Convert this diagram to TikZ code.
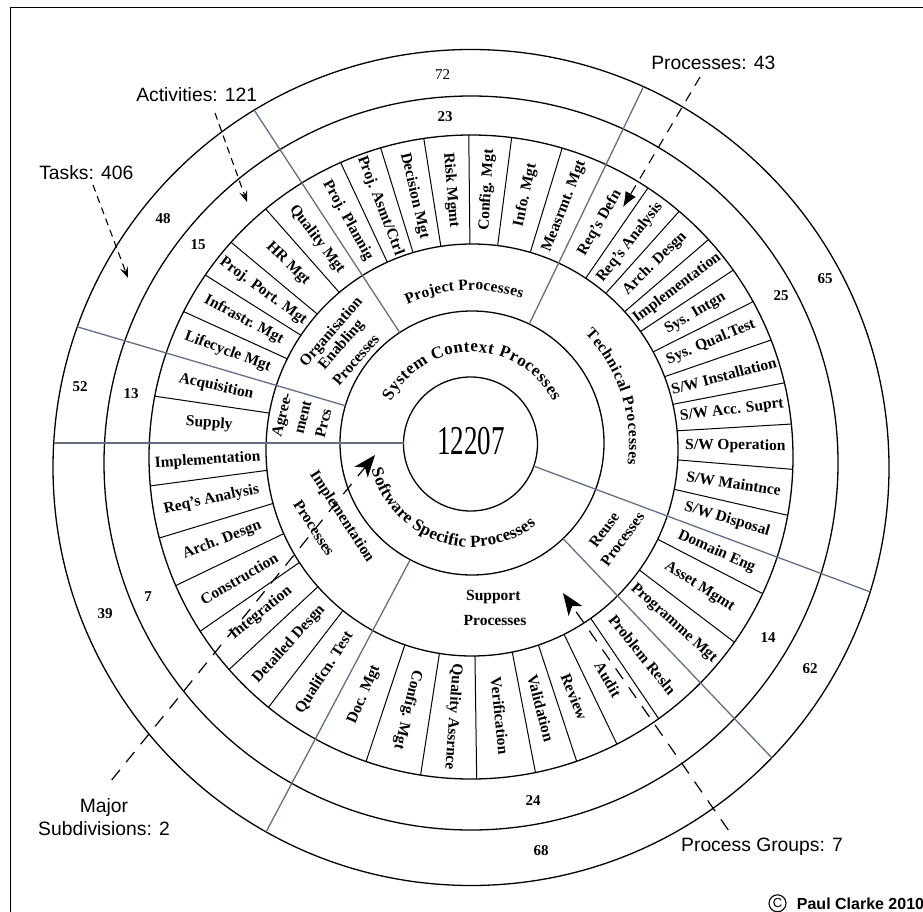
\documentclass[tikz,border=0pt]{standalone}
\usepackage{fontspec}
\usepackage{graphicx}
\setmainfont{Liberation Serif}
\newfontfamily\arialf{Liberation Sans}
\usetikzlibrary{calc,arrows.meta,decorations.text}
\definecolor{slate}{RGB}{100,110,132}

% circle data (pixel units, y negative)
\def\cxA{470.5}\def\cyA{-444}\def\crA{67}
\def\cxB{472}\def\cyB{-443}\def\crB{132}
\def\cxC{472}\def\cyC{-450}\def\crC{206}
\def\cxD{471}\def\cyD{-457}\def\crD{322}
\def\cxE{471}\def\cyE{-463}\def\crE{367}
\def\cxF{471}\def\cyF{-467.5}\def\crF{418}

\newcommand\raypt[3]{%
  \pgfmathsetmacro\RYdx{(\csname cx#3\endcsname-472)/100}%
  \pgfmathsetmacro\RYdy{(\csname cy#3\endcsname+443)/100}%
  \pgfmathsetmacro\RYr{\csname cr#3\endcsname/100}%
  \pgfmathsetmacro\RYb{cos(#2)*\RYdx+sin(#2)*\RYdy}%
  \pgfmathsetmacro\RYt{100*(\RYb+sqrt(\RYr*\RYr-\RYdx*\RYdx-\RYdy*\RYdy+\RYb*\RYb))}%
  \coordinate (#1) at ($(P)+(#2:\RYt)$)}
\newcommand\seg[4]{\raypt{sa}{#1}{#2};\raypt{sb}{#1}{#3};\draw[#4] (sa) -- (sb);}
\newcommand\actlab[3]{%
  \raypt{la}{#2}{C};\raypt{lb}{#2}{D};%
  \pgfmathsetmacro\LBrot{#2>90 ? #2-180 : #2}%
  \node[actlabel, rotate=\LBrot] (#1) at ($(la)!0.5!(lb)$) {#3};}

\tikzset{
  frameline/.style={line width=1.3pt, black},
  ringline/.style={line width=1.3pt, black},
  divline/.style={line width=1pt, black},
  grayline/.style={line width=1.3pt, slate},
  actlabel/.style={font=\fontsize{15.5}{16}\selectfont\bfseries, inner sep=0pt},
  grplabel/.style={font=\fontsize{15.5}{16}\selectfont\bfseries, inner sep=0pt},
  ringnum/.style={font=\fontsize{15}{16}\selectfont\bfseries, inner sep=0pt},
  note/.style={font=\arialf\fontsize{19.3}{22}\selectfont, inner sep=0pt, anchor=base},
  dashS/.style={line width=1.1pt, dash pattern=on 7pt off 5pt, -{Stealth[length=11pt,width=8pt,inset=4pt]}},
  dashP/.style={line width=1.1pt, dash pattern=on 10pt off 8pt, -{Latex[length=15pt,width=12pt]}},
  dashL/.style={line width=1.2pt, dash pattern=on 13pt off 10pt, -{Stealth[length=22pt,width=17pt,inset=6pt]}},
  arctext/.style={decorate, decoration={text along path, text align=fit to path, text={|#1}}},
}

\begin{document}
\begin{tikzpicture}[x=1pt,y=1pt]
\useasboundingbox (0,0) rectangle (923,-912);
\fill[white] (0,0) rectangle (923,-912);
\coordinate (P) at (472,-443);
\draw[frameline] (10.7,-912) -- (10.7,-7.3) -- (923,-7.3);

% rings
\draw[ringline] (\cxA,\cyA) circle[radius=\crA];
\draw[ringline] (\cxB,\cyB) circle[radius=\crB];
\draw[ringline] (\cxC,\cyC) circle[radius=\crC];
\draw[ringline] (\cxD,\cyD) circle[radius=\crD];
\draw[ringline] (\cxE,\cyE) circle[radius=\crE];
\draw[ringline] (\cxF,\cyF) circle[radius=\crF];

% process box dividers
\foreach \a in {187.6,196.9,205.7,214.7,223,232.4,251.6,261.2,-89.2,-79.1,-71.8,-64.3,-55.9,-37.2,-27.4,-12.9,-4.7,3.4,10.9,19,26.7,33.5,40.7,48.2,55.4,73,82.6,90.6,99,107.2,115.1,131.4,140.2,147.8,155.5,171.6}
  {\seg{\a}{C}{D}{divline}}

% group / subdivision lines
\seg{180}{A}{F}{grayline}
\seg{-20.5}{A}{F}{grayline}
\foreach \a in {123.2,64.3,163.6,242.1,-46.4} {\seg{\a}{B}{F}{grayline}}

% centre
\node (core) at (471,-441) {\scalebox{0.66}[1]{\fontsize{41}{41}\selectfont 12207}};

% arc texts
\path[arctext={\fontsize{17}{17}\selectfont\bfseries|System Context Processes}] ($(P)+(153:91)$) arc[start angle=153, end angle=27, radius=91];
\path[arctext={\fontsize{17}{17}\selectfont\bfseries|Software Specific Processes}] ($(P)+(195:104)$) arc[start angle=195, end angle=308, radius=104];
\path[arctext={\fontsize{15.5}{16}\selectfont\bfseries|Project Processes}] ($(P)+(115:153)$) arc[start angle=115, end angle=71, radius=153];
\path[arctext={\fontsize{15.5}{16}\selectfont\bfseries|Technical Processes}] ($(P)+(44:157)$) arc[start angle=44, end angle=-8, radius=157];

% group labels
\node[grplabel, rotate=49] (g1a) at (331.7,-332.5) {Organisation};
\node[grplabel, rotate=49] (g1b) at (341.7,-345) {Enabling};
\node[grplabel, rotate=49] (g1c) at (355.8,-360) {Processes};
\node[grplabel, rotate=76] (g2a) at (283.3,-415) {Agree-};
\node[grplabel, rotate=76] (g2b) at (303.3,-417.5) {ment};
\node[grplabel, rotate=76] (g2c) at (323.3,-423.3) {Prcs};
\node[grplabel, rotate=-57] (g3a) at (341.7,-516.7) {Implementation};
\node[grplabel, rotate=-57] (g3b) at (314,-528) {Processes};
\node[grplabel, rotate=53.5] (g4a) at (604.2,-530) {Reuse};
\node[grplabel, rotate=53.5] (g4b) at (622.5,-539.2) {Processes};
\node[grplabel] (g5a) at (493.3,-597.3) {Support};
\node[grplabel] (g5b) at (495,-620) {Processes};

% process labels
\actlab{a01}{175.8}{Supply}
\actlab{a02}{167.6}{Acquisition}
\actlab{a03}{159.55}{Lifecycle Mgt}
\actlab{a04}{151.65}{Infrastr. Mgt}
\actlab{a05}{144}{Proj. Port. Mgt}
\actlab{a06}{135.8}{HR Mgt}
\actlab{a07}{127.3}{Quality Mgt}
\actlab{a08}{119.15}{Proj. Plannig}
\actlab{a09}{111.15}{Proj. Asmt/Ctrl}
\actlab{a10}{103.1}{Decision Mgt}
\actlab{a11}{94.8}{Risk Mgmt}
\actlab{a12}{86.6}{Config. Mgt}
\actlab{a13}{77.8}{Info. Mgt}
\actlab{a14}{68.65}{Measrmt. Mgt}
\actlab{a15}{59.85}{Req's Defn}
\actlab{a16}{51.8}{Req's Analysis}
\actlab{a17}{44.45}{Arch. Desgn}
\actlab{a18}{37.1}{Implementation}
\actlab{a19}{30.1}{Sys. Intgn}
\actlab{a20}{22.85}{Sys. Qual.Test}
\actlab{a21}{14.95}{S/W Installation}
\actlab{a22}{7.15}{S/W Acc. Suprt}
\actlab{a23}{-0.65}{S/W Operation}
\actlab{a24}{-8.8}{S/W Maintnce}
\actlab{a25}{-16.7}{S/W Disposal}
\actlab{a26}{-23.95}{Domain Eng}
\actlab{a27}{-32.3}{Asset Mgmt}
\actlab{a28}{-41.8}{Programme Mgt}
\actlab{a29}{-51.15}{Problem Resln}
\actlab{a30}{-60.1}{Audit}
\actlab{a31}{-68.05}{Review}
\actlab{a32}{-75.45}{Validation}
\actlab{a33}{-84.15}{Verification}
\actlab{a34}{-94}{Quality Assrnce}
\actlab{a35}{-103.6}{Config. Mgt}
\actlab{a36}{246.85}{Doc. Mgt}
\actlab{a37}{237.25}{Qualifcn. Test}
\actlab{a38}{227.7}{Detailed Desgn}
\actlab{a39}{218.85}{Integration}
\actlab{a40}{210.2}{Construction}
\actlab{a41}{201.3}{Arch. Desgn}
\actlab{a42}{192.25}{Req's Analysis}
\actlab{a43}{183.8}{Implementation}

% ring counts
\node[ringnum] (n72) at (442.5,-75) {\mdseries 72};
\node[ringnum] (n23) at (445,-117) {23};
\node[ringnum] (n48) at (163,-219) {48};
\node[ringnum] (n15) at (198,-245) {15};
\node[ringnum] (n52) at (80,-387) {52};
\node[ringnum] (n13) at (131,-394) {13};
\node[ringnum] (n7) at (148,-597) {7};
\node[ringnum] (n39) at (105,-614) {39};
\node[ringnum] (n24) at (533,-801) {24};
\node[ringnum] (n68) at (541,-851) {68};
\node[ringnum] (n14) at (768,-638) {14};
\node[ringnum] (n62) at (810,-669) {62};
\node[ringnum] (n25) at (781,-296) {25};
\node[ringnum] (n65) at (825,-279) {65};

% annotations
\node[note] (tActs) at (196.7,-101.7) {Activities: 121};
\node[note] (tTasks) at (86.3,-180) {Tasks: 406};
\node[note] (tProcs) at (713.3,-70) {Processes: 43};
\node[note] (tMajA) at (104,-812) {Major};
\node[note] (tMajB) at (104,-835) {Subdivisions: 2};
\node[note] (tGroups) at (762,-851.5) {Process Groups: 7};

\coordinate (sActs) at (215,-113);   \coordinate (eActs) at (247,-202);
\coordinate (sTasks) at (93,-185);   \coordinate (eTasks) at (128,-278);
\coordinate (sProcs) at (700,-77);   \coordinate (eProcs) at (623,-207);
\coordinate (sMaj) at (111.7,-780);  \coordinate (eMaj) at (375,-455);
\coordinate (sGrp) at (728.3,-830);  \coordinate (eGrp) at (563,-593);
\draw[dashS] (sActs) -- (eActs);
\draw[dashS] (sTasks) -- (eTasks);
\draw[dashP] (sProcs) -- (eProcs);
\draw[dashL] (sMaj) -- (eMaj);
\draw[dashL] (sGrp) -- (eGrp);

% copyright
\node[draw, circle, line width=1.1pt, minimum size=17pt, inner sep=0pt, font=\arialf\fontsize{13}{13}\selectfont] (copy) at (777.5,-903.3) {C};
\node[font=\arialf\bfseries\fontsize{16}{16}\selectfont, anchor=base west, inner sep=0pt] (author) at (796.7,-909.3) {Paul Clarke 2010};
\end{tikzpicture}
\end{document}
